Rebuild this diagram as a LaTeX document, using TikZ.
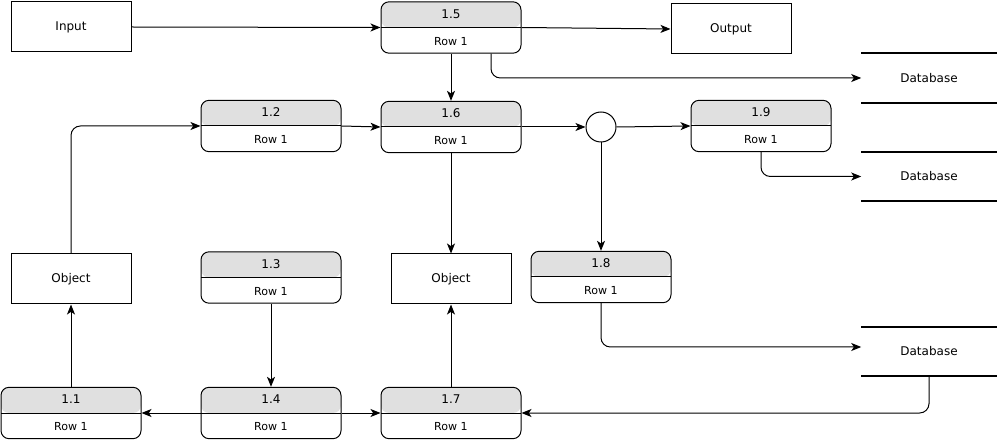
\documentclass[tikz,border=0pt]{standalone}
\usepackage{fontspec}
\setmainfont{DejaVu Sans}
\usetikzlibrary{arrows.meta}
\definecolor{headgray}{HTML}{E0E0E0}
% process box: rounded box with a grey title band and a divider
\newcommand\procnode[5]{%
  \node[procbox] (#1) at (#2,#3) {};
  \node[proctitle] (#1t) at ([yshift=-12.5*0.75pt]#1.north) {#4};
  \node[procrow] (#1r) at ([yshift=12.5*0.75pt]#1.south) {#5};
}
\begin{document}
\begin{tikzpicture}[x=0.75pt,y=-0.75pt,
  procbox/.style={draw, line width=0.75pt, rounded corners=6pt, fill=white,
    minimum width=105pt, minimum height=38.5pt, inner sep=0pt,
    path picture={
      \fill[headgray] (path picture bounding box.north west) rectangle (path picture bounding box.east);
      \draw[line width=0.75pt] (path picture bounding box.west) -- (path picture bounding box.east);
    }},
  proctitle/.style={font=\fontsize{9}{10}\selectfont, inner sep=0pt},
  procrow/.style={font=\fontsize{8.3}{9}\selectfont, inner sep=0pt},
  ent/.style={draw, line width=0.75pt, minimum width=90pt, minimum height=37.5pt,
    inner sep=0pt, font=\fontsize{9}{10}\selectfont},
  store/.style={minimum width=101.25pt, minimum height=37pt, inner sep=0pt,
    font=\fontsize{9}{10}\selectfont},
  storeline/.style={line width=1.5pt},
  junction/.style={draw, line width=0.75pt, circle, minimum size=22.5pt, inner sep=0pt},
  flow/.style={line width=0.75pt, -{Stealth[length=7.5pt,width=6pt,inset=2pt]}, rounded corners=7pt}
]
\useasboundingbox (0,0) rectangle (1000,445);

% external entities
\node[ent] (in) at (71,27) {Input};
\node[ent] (out) at (731,29) {Output};
\node[ent] (objL) at (71,279) {Object};
\node[ent] (objM) at (451,279) {Object};

% processes
\procnode{p15}{451}{27.5}{1.5}{Row 1}
\procnode{p16}{451}{127}{1.6}{Row 1}
\procnode{p12}{271}{126}{1.2}{Row 1}
\procnode{p19}{761}{126}{1.9}{Row 1}
\procnode{p13}{271}{277.5}{1.3}{Row 1}
\procnode{p18}{601}{277}{1.8}{Row 1}
\procnode{p11}{71}{413}{1.1}{Row 1}
\procnode{p14}{271}{413}{1.4}{Row 1}
\procnode{p17}{451}{413}{1.7}{Row 1}

% junction
\node[junction] (c) at (601,127) {};

% data stores
\node[store] (db1) at (929,78) {Database};
\node[store] (db2) at (929,176.5) {Database};
\node[store] (db3) at (929,351.5) {Database};
\foreach \d in {db1,db2,db3}{
  \draw[storeline] (\d.north west) -- (\d.north east);
  \draw[storeline] (\d.south west) -- (\d.south east);
}

% flows
\draw[flow] (in.east) -- (p15.west);
\draw[flow] (p15.east) -- (out.west);
\coordinate (p15b) at ([xshift=40*0.75pt]p15.south);
\draw[flow] (p15b) |- (db1.west);
\draw[flow] (p15.south) -- (p16.north);
\draw[flow] (p12.east) -- (p16.west);
\draw[flow] (p16.east) -- (c.west);
\draw[flow] (c.east) -- (p19.west);
\draw[flow] (c.south) -- (p18.north);
\draw[flow] (p19.south) |- (db2.west);
\draw[flow] (p16.south) -- (objM.north);
\draw[flow] (objL.north) |- (p12.west);
\draw[flow] (p11.north) -- (objL.south);
\draw[flow] (p13.south) -- (p14.north);
\draw[flow] (p14.west) -- (p11.east);
\draw[flow] (p14.east) -- (p17.west);
\draw[flow] (p17.north) -- (objM.south);
\coordinate (db3in) at ([yshift=4.5*0.75pt]db3.west);
\draw[flow] (p18.south) |- (db3in);
\draw[flow] (db3.south) |- (p17.east);
\end{tikzpicture}
\end{document}
